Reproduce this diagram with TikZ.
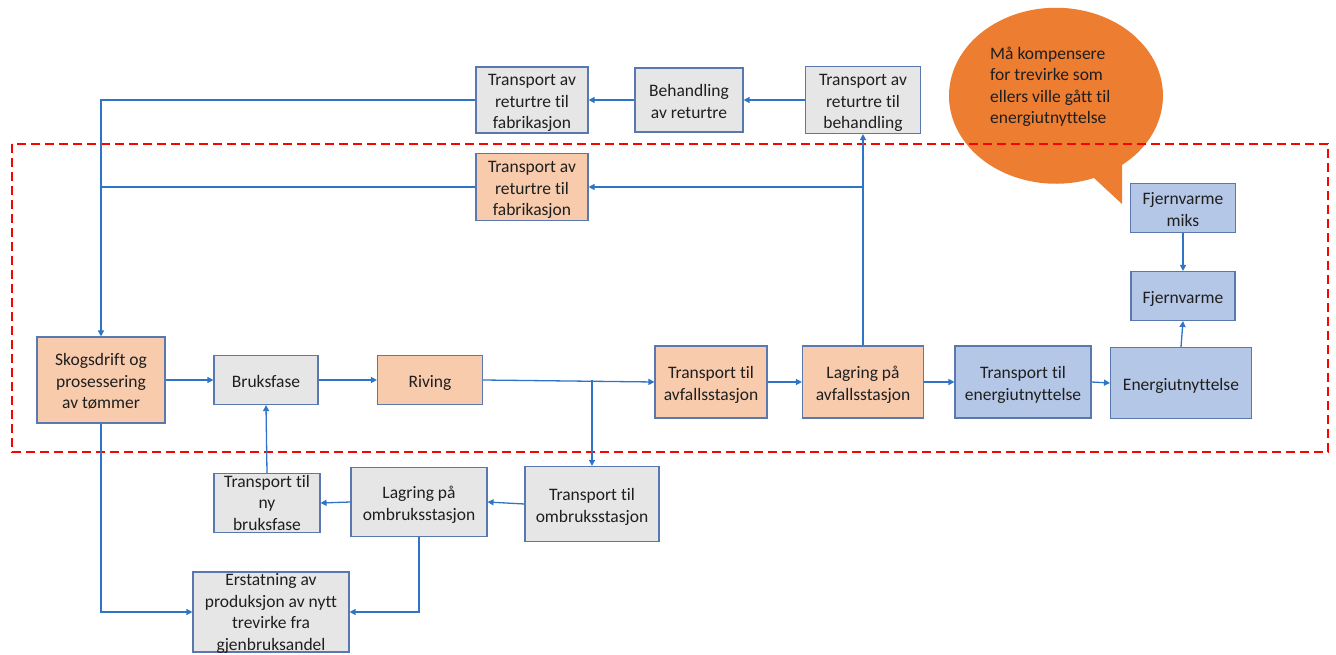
\documentclass[tikz,border=0pt]{standalone}
\usepackage{fontspec}
\setmainfont{Carlito}[Ligatures=NoCommon]
\usetikzlibrary{arrows.meta}

\definecolor{boxedge}{RGB}{90,120,176}
\definecolor{wood}{RGB}{248,203,173}
\definecolor{neutral}{RGB}{231,230,230}
\definecolor{energy}{RGB}{180,199,231}
\definecolor{flow}{RGB}{46,117,200}
\definecolor{callout}{RGB}{237,125,49}

% box text: centred lines, drawn slightly below the geometric middle
\newcommand\boxlines[1]{\raisebox{-3pt}[\height][\depth]{\begin{tabular}{@{}c@{}}#1\end{tabular}}}
% same, but the text may run past a box of fixed size
\newcommand\tightlines[1]{\raisebox{-6pt}[0pt][0pt]{\begin{tabular}{@{}c@{}}#1\end{tabular}}}

\tikzset{
  proc/.style={draw=boxedge, line width=1.1pt, inner sep=0pt,
    font=\fontsize{17.5}{21.5}\selectfont, text=black!88},
  woodbox/.style={proc, fill=wood},
  greybox/.style={proc, fill=neutral},
  energybox/.style={proc, fill=energy},
  link/.style={draw=flow, line width=1.3pt},
  arrowlink/.style={link, -{Triangle[length=6pt,width=6pt]}},
  boundary/.style={draw=red, line width=2pt, dash pattern=on 9pt off 5pt},
}

\begin{document}
\begin{tikzpicture}[x=1pt,y=-1pt]
\useasboundingbox (0,0) rectangle (1336,655);

% speech bubble with its tail
\fill[callout] (1122,165) arc[start angle=-51.9, end angle=290.8, x radius=107pt, y radius=88pt]
  -- (1122,204) -- cycle;
\node[anchor=west, align=left, font=\fontsize{17.5}{21.5}\selectfont, text=black!88, inner sep=0pt]
  (note) at (990,87) {Må kompensere\\for trevirke som\\ellers ville gått til\\energiutnyttelse};

% system boundary
\draw[boundary] (12,144) rectangle (1328,452);

% process boxes
\node[greybox, minimum width=112pt, minimum height=66pt] (topfab) at (532,100) {\boxlines{Transport av\\returtre til\\fabrikasjon}};
\node[greybox, minimum width=108pt, minimum height=64pt] (beh) at (689,100) {\boxlines{Behandling\\av returtre}};
\node[greybox, minimum width=115pt, minimum height=67pt] (topbeh) at (863,100) {\boxlines{Transport av\\returtre til\\behandling}};
\node[woodbox, minimum width=112pt, minimum height=67pt] (midfab) at (532,187) {\boxlines{Transport av\\returtre til\\fabrikasjon}};

\node[woodbox, minimum width=128pt, minimum height=86pt] (skog) at (101,380) {\boxlines{Skogsdrift og\\prosessering\\av tømmer}};
\node[greybox, minimum width=104pt, minimum height=49pt] (bruk) at (266,380) {\boxlines{Bruksfase}};
\node[woodbox, minimum width=105pt, minimum height=49pt] (riving) at (430,380) {\boxlines{Riving}};
\node[woodbox, minimum width=112pt, minimum height=72pt] (travf) at (711,382) {\boxlines{Transport til\\avfallsstasjon}};
\node[woodbox, minimum width=121pt, minimum height=72pt] (lagavf) at (863,382) {\boxlines{Lagring på\\avfallsstasjon}};
\node[energybox, minimum width=136pt, minimum height=72pt] (trenergi) at (1023,382) {\boxlines{Transport til\\energiutnyttelse}};
\node[energybox, minimum width=141pt, minimum height=71pt] (energi) at (1181,383) {\boxlines{Energiutnyttelse}};
\node[energybox, minimum width=104pt, minimum height=49pt] (fjern) at (1183,296) {\boxlines{Fjernvarme}};
\node[energybox, minimum width=105pt, minimum height=49pt] (miks) at (1183,208) {\boxlines{Fjernvarme\\miks}};

\node[greybox, minimum width=134pt, minimum height=75pt] (trombruk) at (592,504) {\boxlines{Transport til\\ombruksstasjon}};
\node[greybox, minimum width=136pt, minimum height=69pt] (lagombruk) at (419,502) {\boxlines{Lagring på\\ombruksstasjon}};
\node[greybox, minimum width=106pt, minimum height=59pt] (trny) at (267,503) {\tightlines{Transport til\\ny\\bruksfase}};
\node[greybox, minimum width=156pt, minimum height=80pt] (erst) at (271,612) {\tightlines{Erstatning av\\produksjon av nytt\\trevirke fra\\gjenbruksandel}};

% junction points on the return and split lines
\coordinate (jmid) at (skog.north |- midfab.west);
\coordinate (jret) at (lagavf.north |- midfab.east);
\coordinate (jsplit) at (trombruk.north |- riving.east);

% return flows to production
\draw[arrowlink] (topfab.west) -| (skog.north);
\draw[link] (midfab.west) -- (jmid);
\draw[arrowlink] (beh.west) -- (topfab.east);
\draw[arrowlink] (topbeh.west) -- (beh.east);
\draw[arrowlink] (lagavf.north) -- (topbeh.south);
\draw[arrowlink] (jret) -- (midfab.east);

% main chain
\draw[arrowlink] (skog.east) -- (bruk.west);
\draw[arrowlink] (bruk.east) -- (riving.west);
\draw[arrowlink] (riving.east) -- (travf.west);
\draw[arrowlink] (jsplit) -- (trombruk.north);
\draw[arrowlink] (travf.east) -- (lagavf.west);
\draw[arrowlink] (lagavf.east) -- (trenergi.west);
\draw[arrowlink] (trenergi.east) -- (energi.west);
\draw[arrowlink] (energi.north) -- (fjern.south);
\draw[arrowlink] (miks.south) -- (fjern.north);

% reuse loop
\draw[arrowlink] (trombruk.west) -- (lagombruk.east);
\draw[arrowlink] (lagombruk.west) -- (trny.east);
\draw[arrowlink] (trny.north) -- (bruk.south);
\draw[arrowlink] (skog.south) |- (erst.west);
\draw[arrowlink] (lagombruk.south) |- (erst.east);
\end{tikzpicture}
\end{document}
